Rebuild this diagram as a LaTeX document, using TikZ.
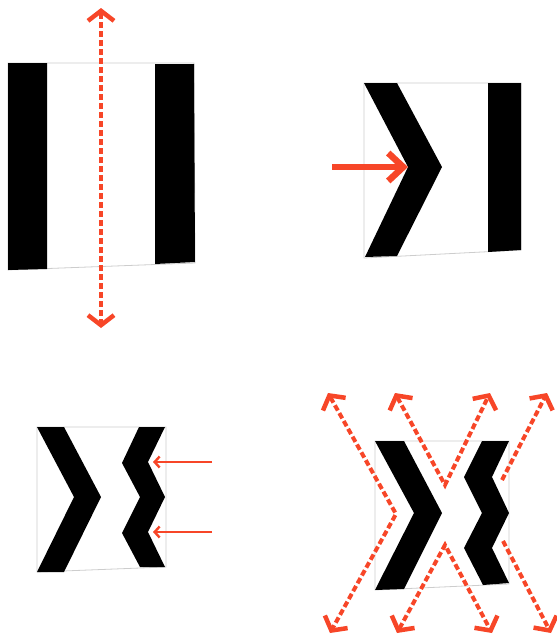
\documentclass[tikz,border=0pt]{standalone}
\usetikzlibrary{arrows.meta}
\definecolor{arrred}{RGB}{247,70,40}
\definecolor{frame}{RGB}{205,205,205}
\tikzset{
  dhead/.tip={Straight Barb[length=10pt,width=26pt,line width=4.5pt]},
  outline/.style={draw=frame, line width=0.8pt},
  band/.style={fill=black, draw=none},
  dasharrow/.style={draw=arrred, line width=4pt, dash pattern=on 6pt off 3pt, dhead-dhead},
  dashone/.style={draw=arrred, line width=4pt, dash pattern=on 6pt off 3pt, -dhead},
  bigarrow/.style={draw=arrred, line width=6.5pt, -{Straight Barb[length=15pt,width=28pt,line width=6.5pt]}},
  thinarrow/.style={draw=arrred, line width=2.3pt, -{Straight Barb[length=5pt,width=11pt,line width=2.4pt]}}
}
\begin{document}
\begin{tikzpicture}[x=1pt,y=-1pt]
\useasboundingbox (0,0) rectangle (557,641);
% ---------- Panel 1 ----------
\draw[outline] (8,63) -- (194,63) -- (195,263) -- (8,270) -- cycle;
\fill[band] (8,63) -- (47,63) -- (47,269) -- (8,270) -- cycle;
\fill[band] (155,64) -- (194,64) -- (195,262) -- (155,264) -- cycle;
\coordinate (p1top) at (101,8);
\coordinate (p1bot) at (101,328);
\draw[dasharrow] (p1top) -- (p1bot);
% ---------- Panel 2 ----------
\draw[outline] (364,83) -- (521,83) -- (521,250) -- (364,258) -- cycle;
\fill[band] (364,83) -- (397,83) -- (442,167) -- (397,256) -- (365,257) -- (408,167) -- cycle;
\fill[band] (488,83) -- (521,83) -- (521,250) -- (488,252) -- cycle;
\coordinate (p2s) at (332,167);
\coordinate (p2t) at (408,167);
\draw[bigarrow] (p2s) -- (p2t);
% ---------- Panel 3 ----------
\draw[outline] (37,427) -- (166,427) -- (166,567) -- (37,572) -- cycle;
\fill[band] (37,427) -- (64,427) -- (101,497) -- (64,572) -- (37,572) -- (74,497) -- cycle;
\fill[band] (139,427) -- (165,427) -- (148,462) -- (165,497) -- (148,532) -- (165,567)
  -- (140,567) -- (122,533) -- (140,497) -- (122,463) -- cycle;
\coordinate (p3a) at (212,462);
\coordinate (p3at) at (153,462);
\coordinate (p3b) at (212,532);
\coordinate (p3bt) at (153,532);
\draw[thinarrow] (p3a) -- (p3at);
\draw[thinarrow] (p3b) -- (p3bt);
% ---------- Panel 4 ----------
\draw[outline] (375,441) -- (509,441) -- (509,584) -- (375,590) -- cycle;
\fill[band] (375,441) -- (404,441) -- (442,513) -- (404,589) -- (375,590) -- (414,513) -- cycle;
\fill[band] (482,441) -- (509,441) -- (492,477) -- (509,513) -- (492,548) -- (509,583)
  -- (483,585) -- (464,548) -- (482,513) -- (464,477) -- cycle;
\coordinate (a1) at (328,393); \coordinate (v1) at (396,514); \coordinate (b1) at (330,633);
\coordinate (a2) at (395,393); \coordinate (v2) at (445,485); \coordinate (b2) at (490,393);
\coordinate (a3) at (397,633); \coordinate (v3) at (445,545); \coordinate (b3) at (492,633);
\coordinate (s4) at (502,480); \coordinate (t4) at (547,393);
\coordinate (s5) at (503,541); \coordinate (t5) at (551,633);
\draw[dasharrow] (a1) -- (v1) -- (b1);
\draw[dasharrow] (a2) -- (v2) -- (b2);
\draw[dasharrow] (a3) -- (v3) -- (b3);
\draw[dashone] (s4) -- (t4);
\draw[dashone] (s5) -- (t5);
\end{tikzpicture}
\end{document}
